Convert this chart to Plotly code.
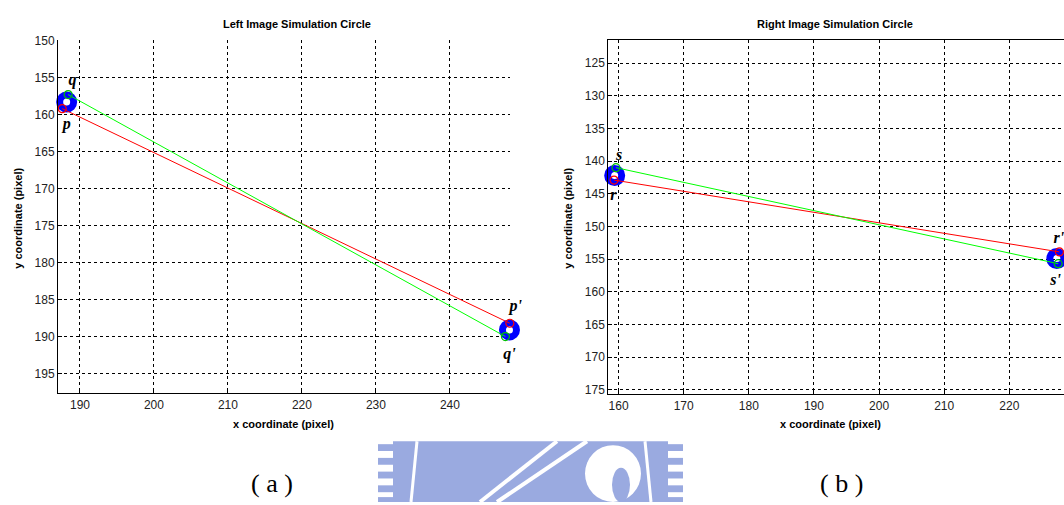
import plotly.graph_objects as go

# ---------------- data ----------------
# Left image (a)
left_red_x = [187.6, 248.1]      # p -> p'
left_red_y = [159.2, 188.2]
left_green_x = [188.4, 247.5]    # q -> q'
left_green_y = [157.3, 190.0]
left_ring_x = [188.2, 248.05]    # simulated circles
left_ring_y = [158.3, 189.1]
left_lbl_text = ["q", "p", "p'", "q'"]
left_lbl_x = [189.0, 188.2, 248.05, 248.05]
left_lbl_y = [155.4, 161.4, 186.0, 192.5]
left_lbl_pos = ["middle center", "middle center", "middle right", "middle center"]

# Right image (b)
right_red_x = [159.3, 227.7]     # r -> r'
right_red_y = [142.9, 153.9]
right_green_x = [159.6, 227.5]   # s -> s'
right_green_y = [141.0, 155.7]
right_ring_x = [159.4, 227.3]
right_ring_y = [142.2, 154.9]
right_lbl_text = ["s", "r", "r'", "s'"]
right_lbl_x = [160.1, 159.2, 227.6, 227.1]
right_lbl_y = [139.2, 145.3, 151.9, 158.4]
right_lbl_pos = ["middle center"] * 4

left_xticks = [190, 200, 210, 220, 230, 240]
left_yticks = [150, 155, 160, 165, 170, 175, 180, 185, 190, 195]
right_xticks = [160, 170, 180, 190, 200, 210, 220]
right_yticks = [125, 130, 135, 140, 145, 150, 155, 160, 165, 170, 175]

titles = ["Left Image Simulation Circle", "Right Image Simulation Circle"]
captions = ["( a )", "( b )"]

W, H = 1064, 505
def px(x):
    return x / W
def py(y):
    return 1 - y / H

fig = go.Figure()

def add_panel(xa, ya, rx, ry, gx, gy, bx, by, lt, lx, ly, lp):
    fig.add_trace(go.Scatter(x=bx, y=by, mode="markers", xaxis=xa, yaxis=ya,
                             marker=dict(symbol="circle-open", size=14, color="#0000ff",
                                         line=dict(width=7, color="#0000ff")),
                             cliponaxis=False, showlegend=False, hoverinfo="skip"))
    fig.add_trace(go.Scatter(x=rx, y=ry, mode="lines+markers", xaxis=xa, yaxis=ya,
                             line=dict(color="#ff0000", width=1),
                             marker=dict(symbol="circle-open", size=8, color="#ff0000",
                                         line=dict(width=1.2, color="#ff0000")),
                             cliponaxis=False, showlegend=False))
    fig.add_trace(go.Scatter(x=gx, y=gy, mode="lines+markers", xaxis=xa, yaxis=ya,
                             line=dict(color="#00ff00", width=1),
                             marker=dict(symbol="circle-open", size=8, color="#00c000",
                                         line=dict(width=1.2, color="#00b000")),
                             cliponaxis=False, showlegend=False))
    fig.add_trace(go.Scatter(x=lx, y=ly, mode="text", xaxis=xa, yaxis=ya,
                             text=["<b><i>%s</i></b>" % t for t in lt],
                             textposition=lp,
                             textfont=dict(family="Liberation Serif, Times New Roman, serif",
                                           size=16, color="black"),
                             cliponaxis=False, showlegend=False, hoverinfo="skip"))

add_panel("x", "y", left_red_x, left_red_y, left_green_x, left_green_y,
          left_ring_x, left_ring_y, left_lbl_text, left_lbl_x, left_lbl_y, left_lbl_pos)
add_panel("x2", "y2", right_red_x, right_red_y, right_green_x, right_green_y,
          right_ring_x, right_ring_y, right_lbl_text, right_lbl_x, right_lbl_y, right_lbl_pos)

tickfont = dict(family="Liberation Sans, Arial, sans-serif", size=12, color="#222222")
common = dict(showgrid=True, gridcolor="black", gridwidth=1, griddash="3px,3px",
              zeroline=False, showline=True, linecolor="black", linewidth=1,
              ticks="inside", ticklen=4, tickcolor="black", tickfont=tickfont)

fig.update_layout(
    width=W, height=H, margin=dict(l=0, r=0, t=0, b=0),
    paper_bgcolor="white", plot_bgcolor="white", showlegend=False,
    xaxis=dict(domain=[px(58), px(510)], range=[187.03, 248.12], anchor="y",
               tickvals=left_xticks, mirror=False, **common),
    yaxis=dict(domain=[py(394), py(34)], range=[197.65, 149.97], anchor="x",
               tickvals=left_yticks, mirror=False, **common),
    xaxis2=dict(domain=[px(608.3), 1.0], range=[158.42, 228.4], anchor="y2",
                tickvals=right_xticks, mirror=True, **common),
    yaxis2=dict(domain=[py(395), py(33.3)], range=[175.68, 121.4], anchor="x2",
                tickvals=right_yticks, mirror=False, **common),
)

labfont = dict(family="Liberation Sans, Arial, sans-serif", size=11, color="black")
# titles
for t, cx in zip(titles, [297, 835]):
    fig.add_annotation(x=px(cx), y=py(17), xref="paper", yref="paper", text="<b>%s</b>" % t,
                       showarrow=False, font=labfont, xanchor="center", yanchor="middle")
# axis titles
for cx in [283, 830]:
    fig.add_annotation(x=px(cx), y=py(425), xref="paper", yref="paper",
                       text="<b>x coordinate (pixel)</b>", showarrow=False, font=labfont,
                       xanchor="center", yanchor="middle")
for cx in [18, 568]:
    fig.add_annotation(x=px(cx), y=py(216), xref="paper", yref="paper",
                       text="<b>y coordinate (pixel)</b>", showarrow=False, font=labfont,
                       textangle=-90, xanchor="center", yanchor="middle")

# watermark (faint emblem, partially visible)
wm = "#9aaae0"
shapes = []
shapes.append(dict(type="rect", xref="paper", yref="paper", x0=px(393), x1=px(668),
                   y0=py(505), y1=py(443), fillcolor=wm, line=dict(width=0), layer="below"))
for (x0, x1) in [(378, 393), (668, 683)]:
    for (y0, y1) in [(446, 453), (460, 467), (474, 481), (488, 495), (500, 505)]:
        shapes.append(dict(type="rect", xref="paper", yref="paper", x0=px(x0), x1=px(x1),
                           y0=py(y1), y1=py(y0), fillcolor=wm, line=dict(width=0),
                           layer="below"))
# inner white circle arcs
for (xa, xb) in [(417, 411), (645, 651)]:
    shapes.append(dict(type="line", xref="paper", yref="paper", x0=px(xa), y0=py(443),
                       x1=px(xb), y1=py(505), line=dict(color="white", width=3),
                       layer="below"))
# diagonal white stripes
for (xa, xb) in [(480, 557), (497, 587)]:
    shapes.append(dict(type="line", xref="paper", yref="paper", x0=px(xa), y0=py(505),
                       x1=px(xb), y1=py(443), line=dict(color="white", width=4),
                       layer="below"))
# white head region
shapes.append(dict(type="circle", xref="paper", yref="paper", x0=px(585), x1=px(641),
                   y0=py(505), y1=py(447), fillcolor="white", line=dict(width=0),
                   layer="below"))
shapes.append(dict(type="circle", xref="paper", yref="paper", x0=px(612), x1=px(630),
                   y0=py(505), y1=py(470), fillcolor=wm, line=dict(width=0),
                   layer="below"))
fig.update_layout(shapes=shapes)

# captions
for t, cx in zip(captions, [272, 841]):
    fig.add_annotation(x=px(cx), y=py(486), xref="paper", yref="paper", text=t,
                       showarrow=False,
                       font=dict(family="Liberation Serif, Times New Roman, serif",
                                 size=26, color="black"),
                       xanchor="center", yanchor="middle")

fig.write_html("out.html")
